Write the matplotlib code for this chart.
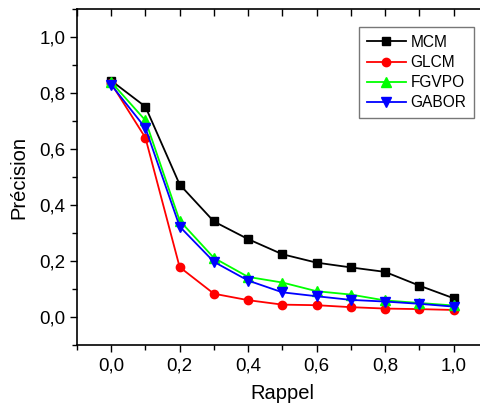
import matplotlib
matplotlib.use("Agg")
import matplotlib.pyplot as plt
from matplotlib.ticker import MultipleLocator, FuncFormatter

plt.rcParams['font.family'] = ['Liberation Sans', 'DejaVu Sans']

rappel = [0.0, 0.1, 0.2, 0.3, 0.4, 0.5, 0.6, 0.7, 0.8, 0.9, 1.0]
mcm = [0.845, 0.752, 0.474, 0.342, 0.279, 0.225, 0.195, 0.178, 0.162, 0.113, 0.068]
glcm = [0.835, 0.641, 0.179, 0.084, 0.061, 0.045, 0.043, 0.036, 0.031, 0.029, 0.026]
fgvpo = [0.840, 0.703, 0.345, 0.212, 0.144, 0.124, 0.093, 0.081, 0.060, 0.051, 0.042]
gabor = [0.830, 0.676, 0.324, 0.198, 0.131, 0.089, 0.075, 0.062, 0.056, 0.048, 0.038]

fig = plt.figure(figsize=(4.81, 4.11), dpi=100)
ax = fig.add_axes([0.160, 0.160, 0.854, 0.8175])

ms = 5.5
lw = 1.3
ax.plot(rappel, mcm, color='black', marker='s', ms=ms, lw=lw, label='MCM')
ax.plot(rappel, glcm, color='red', marker='o', ms=ms+0.5, lw=lw, label='GLCM')
ax.plot(rappel, fgvpo, color='#00ff00', marker='^', ms=ms+1, lw=lw, label='FGVPO')
ax.plot(rappel, gabor, color='blue', marker='v', ms=ms+1, lw=lw, label='GABOR')

ax.set_xlim(-0.1, 1.1)
ax.set_ylim(-0.1, 1.1)
ax.spines['right'].set_visible(False)
for s in ['left', 'bottom', 'top']:
    ax.spines[s].set_linewidth(1.2)

fmt = FuncFormatter(lambda v, p: f"{v:.1f}".replace('.', ','))
ax.xaxis.set_major_locator(MultipleLocator(0.2))
ax.xaxis.set_minor_locator(MultipleLocator(0.1))
ax.yaxis.set_major_locator(MultipleLocator(0.2))
ax.yaxis.set_minor_locator(MultipleLocator(0.1))
ax.xaxis.set_major_formatter(fmt)
ax.yaxis.set_major_formatter(fmt)
ax.tick_params(axis='both', which='major', direction='out', length=5, width=1, labelsize=13.5)
ax.tick_params(axis='both', which='minor', direction='out', length=3.5, width=1)
ax.tick_params(axis='x', which='both', top=False)
# top ticks pointing inward
ax2 = ax.secondary_xaxis('top')
ax2.xaxis.set_major_locator(MultipleLocator(0.1))
ax2.tick_params(direction='in', length=5, width=1, labeltop=False)
ax2.spines['top'].set_visible(False)

ax.set_xlabel('Rappel', fontsize=14.5, labelpad=7)
ax.set_ylabel('Précision', fontsize=14.5, labelpad=8)

leg = ax.legend(loc='upper left', bbox_to_anchor=(0.687, 0.947), fontsize=11.2,
                frameon=True, fancybox=False, edgecolor='#555555',
                handlelength=2.5, handletextpad=0.3, borderpad=0.5,
                labelspacing=0.33, borderaxespad=0)
leg.get_frame().set_linewidth(1.0)

fig.savefig('out.png', dpi=100)
